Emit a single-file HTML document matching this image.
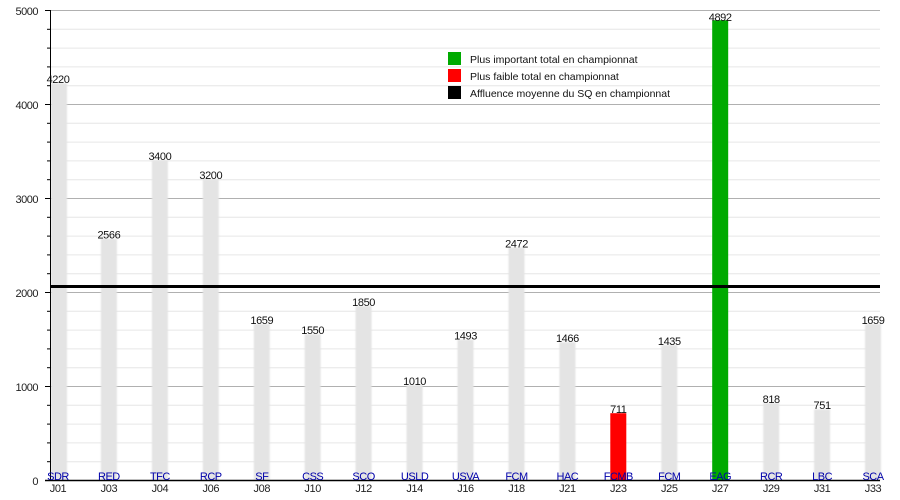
<!DOCTYPE html>
<html><head><meta charset="utf-8"><style>
html,body{margin:0;padding:0;background:#fff;width:900px;height:500px;overflow:hidden}
svg{display:block;font-family:"Liberation Sans",Arial,sans-serif}
</style></head><body>
<svg width="900" height="500" viewBox="0 0 900 500" xmlns="http://www.w3.org/2000/svg">
<defs><filter id="b" x="-30%" y="-5%" width="160%" height="110%"><feGaussianBlur stdDeviation="0.9"/></filter></defs>
<g stroke="#e6e6e6" stroke-width="1">
<line x1="50" x2="880" y1="29.3" y2="29.3"/><line x1="50" x2="880" y1="48.1" y2="48.1"/><line x1="50" x2="880" y1="66.9" y2="66.9"/><line x1="50" x2="880" y1="85.7" y2="85.7"/>
<line x1="50" x2="880" y1="123.3" y2="123.3"/><line x1="50" x2="880" y1="142.1" y2="142.1"/><line x1="50" x2="880" y1="160.9" y2="160.9"/><line x1="50" x2="880" y1="179.7" y2="179.7"/>
<line x1="50" x2="880" y1="217.3" y2="217.3"/><line x1="50" x2="880" y1="236.1" y2="236.1"/><line x1="50" x2="880" y1="254.9" y2="254.9"/><line x1="50" x2="880" y1="273.7" y2="273.7"/>
<line x1="50" x2="880" y1="311.3" y2="311.3"/><line x1="50" x2="880" y1="330.1" y2="330.1"/><line x1="50" x2="880" y1="348.9" y2="348.9"/><line x1="50" x2="880" y1="367.7" y2="367.7"/>
<line x1="50" x2="880" y1="405.3" y2="405.3"/><line x1="50" x2="880" y1="424.1" y2="424.1"/><line x1="50" x2="880" y1="442.9" y2="442.9"/><line x1="50" x2="880" y1="461.7" y2="461.7"/>
</g>
<g stroke="#b0b0b0" stroke-width="1">
<line x1="50" x2="880" y1="10.5" y2="10.5"/><line x1="50" x2="880" y1="104.5" y2="104.5"/><line x1="50" x2="880" y1="198.5" y2="198.5"/><line x1="50" x2="880" y1="292.5" y2="292.5"/><line x1="50" x2="880" y1="386.5" y2="386.5"/>
</g>
<g fill="#e4e4e4" filter="url(#b)">
<rect x="51" y="83.3" width="16" height="396.7"/>
<rect x="100.9" y="238.8" width="16" height="241.2"/>
<rect x="151.9" y="160.4" width="16" height="319.6"/>
<rect x="202.8" y="179.2" width="16" height="300.8"/>
<rect x="253.8" y="324.1" width="16" height="155.9"/>
<rect x="304.7" y="334.3" width="16" height="145.7"/>
<rect x="355.6" y="306.1" width="16" height="173.9"/>
<rect x="406.6" y="385.1" width="16" height="94.9"/>
<rect x="457.5" y="339.7" width="16" height="140.3"/>
<rect x="508.5" y="247.6" width="16" height="232.4"/>
<rect x="559.4" y="342.2" width="16" height="137.8"/>
<rect x="661.3" y="345.1" width="16" height="134.9"/>
<rect x="763.2" y="403.1" width="16" height="76.9"/>
<rect x="814.1" y="409.4" width="16" height="70.6"/>
<rect x="865" y="324.1" width="16" height="155.9"/>
</g>
<rect x="610.3" y="413.2" width="16" height="66.8" fill="#ff0000"/>
<rect x="712.2" y="20.2" width="16" height="459.8" fill="#00aa00"/>
<line x1="50" x2="880" y1="286.5" y2="286.5" stroke="#000" stroke-width="3"/>
<line x1="50.5" x2="50.5" y1="10" y2="481" stroke="#000" stroke-width="1"/>
<line x1="45" x2="880" y1="480.5" y2="480.5" stroke="#000" stroke-width="1.5"/>
<g stroke="#000" stroke-width="1">
<line x1="45" x2="50" y1="10.5" y2="10.5"/><line x1="45" x2="50" y1="104.5" y2="104.5"/><line x1="45" x2="50" y1="198.5" y2="198.5"/><line x1="45" x2="50" y1="292.5" y2="292.5"/><line x1="45" x2="50" y1="386.5" y2="386.5"/>
<line x1="47" x2="50" y1="29.3" y2="29.3"/><line x1="47" x2="50" y1="48.1" y2="48.1"/><line x1="47" x2="50" y1="66.9" y2="66.9"/><line x1="47" x2="50" y1="85.7" y2="85.7"/>
<line x1="47" x2="50" y1="123.3" y2="123.3"/><line x1="47" x2="50" y1="142.1" y2="142.1"/><line x1="47" x2="50" y1="160.9" y2="160.9"/><line x1="47" x2="50" y1="179.7" y2="179.7"/>
<line x1="47" x2="50" y1="217.3" y2="217.3"/><line x1="47" x2="50" y1="236.1" y2="236.1"/><line x1="47" x2="50" y1="254.9" y2="254.9"/><line x1="47" x2="50" y1="273.7" y2="273.7"/>
<line x1="47" x2="50" y1="311.3" y2="311.3"/><line x1="47" x2="50" y1="330.1" y2="330.1"/><line x1="47" x2="50" y1="348.9" y2="348.9"/><line x1="47" x2="50" y1="367.7" y2="367.7"/>
<line x1="47" x2="50" y1="405.3" y2="405.3"/><line x1="47" x2="50" y1="424.1" y2="424.1"/><line x1="47" x2="50" y1="442.9" y2="442.9"/><line x1="47" x2="50" y1="461.7" y2="461.7"/>
</g>
<g font-size="11" fill="#222" text-anchor="end" letter-spacing="-0.5">
<text x="38" y="15">5000</text><text x="38" y="109">4000</text><text x="38" y="203">3000</text><text x="38" y="297">2000</text><text x="38" y="391">1000</text><text x="38" y="485">0</text>
</g>
<g font-size="11" fill="#111" text-anchor="middle" letter-spacing="-0.4">
<text x="58" y="83">4220</text><text x="108.9" y="238.5">2566</text><text x="159.9" y="160">3400</text><text x="210.8" y="179">3200</text>
<text x="261.8" y="324">1659</text><text x="312.7" y="334">1550</text><text x="363.6" y="306">1850</text><text x="414.6" y="385">1010</text>
<text x="465.5" y="339.5">1493</text><text x="516.5" y="247.5">2472</text><text x="567.4" y="342">1466</text><text x="618.3" y="413">711</text>
<text x="669.3" y="345">1435</text><text x="720.2" y="21">4892</text><text x="771.2" y="403">818</text><text x="822.1" y="409">751</text><text x="873" y="324">1659</text>
</g>
<g font-size="11" fill="#0000aa" text-anchor="middle" letter-spacing="-0.5">
<text x="58" y="480">SDR</text><text x="108.9" y="480">RED</text><text x="159.9" y="480">TFC</text><text x="210.8" y="480">RCP</text>
<text x="261.8" y="480">SF</text><text x="312.7" y="480">CSS</text><text x="363.6" y="480">SCO</text><text x="414.6" y="480">USLD</text>
<text x="465.5" y="480">USVA</text><text x="516.5" y="480">FCM</text><text x="567.4" y="480">HAC</text><text x="618.3" y="480">FCMB</text>
<text x="669.3" y="480">FCM</text><text x="720.2" y="480">EAG</text><text x="771.2" y="480">RCR</text><text x="822.1" y="480">LBC</text><text x="873" y="480">SCA</text>
</g>
<g font-size="11" fill="#222" text-anchor="middle" letter-spacing="-0.4">
<text x="58" y="492">J01</text><text x="108.9" y="492">J03</text><text x="159.9" y="492">J04</text><text x="210.8" y="492">J06</text>
<text x="261.8" y="492">J08</text><text x="312.7" y="492">J10</text><text x="363.6" y="492">J12</text><text x="414.6" y="492">J14</text>
<text x="465.5" y="492">J16</text><text x="516.5" y="492">J18</text><text x="567.4" y="492">J21</text><text x="618.3" y="492">J23</text>
<text x="669.3" y="492">J25</text><text x="720.2" y="492">J27</text><text x="771.2" y="492">J29</text><text x="822.1" y="492">J31</text><text x="873" y="492">J33</text>
</g>
<rect x="448" y="52" width="13" height="13" fill="#00aa00"/>
<rect x="448" y="69" width="13" height="13" fill="#ff0000"/>
<rect x="448" y="86" width="13" height="13" fill="#000"/>
<g font-size="10.5" fill="#111">
<text x="470" y="63">Plus important total en championnat</text>
<text x="470" y="80">Plus faible total en championnat</text>
<text x="470" y="97">Affluence moyenne du SQ en championnat</text>
</g>
</svg>
</body></html>
